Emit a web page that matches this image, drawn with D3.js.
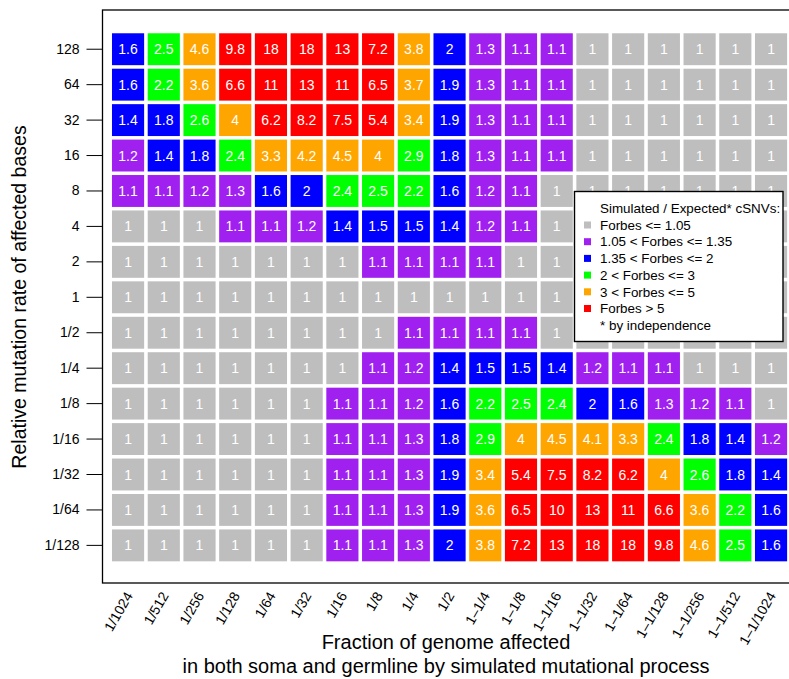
<!DOCTYPE html>
<html>
<head>
<meta charset="utf-8">
<script src="https://cdn.jsdelivr.net/npm/d3@7"></script>
<style>
  body { margin: 0; background: #fff; }
  svg { display: block; font-family: "Liberation Sans", Arial, Helvetica, sans-serif; }
</style>
</head>
<body>
<script>
// columns: fraction of genome affected
var fractions = ["1/1024","1/512","1/256","1/128","1/64","1/32","1/16","1/8","1/4","1/2",
  "1\u20131/4","1\u20131/8","1\u20131/16","1\u20131/32","1\u20131/64","1\u20131/128","1\u20131/256","1\u20131/512","1\u20131/1024"];

// rows: relative mutation rate, top to bottom
var rates = ["128","64","32","16","8","4","2","1","1/2","1/4","1/8","1/16","1/32","1/64","1/128"];

// Simulated / expected cSNVs, one array per row (same order as rates)
var forbes = [
  [1.6,2.5,4.6,9.8,18,18,13,7.2,3.8,2,1.3,1.1,1.1,1,1,1,1,1,1],
  [1.6,2.2,3.6,6.6,11,13,11,6.5,3.7,1.9,1.3,1.1,1.1,1,1,1,1,1,1],
  [1.4,1.8,2.6,4,6.2,8.2,7.5,5.4,3.4,1.9,1.3,1.1,1.1,1,1,1,1,1,1],
  [1.2,1.4,1.8,2.4,3.3,4.2,4.5,4,2.9,1.8,1.3,1.1,1.1,1,1,1,1,1,1],
  [1.1,1.1,1.2,1.3,1.6,2,2.4,2.5,2.2,1.6,1.2,1.1,1,1,1,1,1,1,1],
  [1,1,1,1.1,1.1,1.2,1.4,1.5,1.5,1.4,1.2,1.1,1,1,1,1,1,1,1],
  [1,1,1,1,1,1,1,1.1,1.1,1.1,1.1,1,1,1,1,1,1,1,1],
  [1,1,1,1,1,1,1,1,1,1,1,1,1,1,1,1,1,1,1],
  [1,1,1,1,1,1,1,1,1.1,1.1,1.1,1.1,1,1,1,1,1,1,1],
  [1,1,1,1,1,1,1,1.1,1.2,1.4,1.5,1.5,1.4,1.2,1.1,1.1,1,1,1],
  [1,1,1,1,1,1,1.1,1.1,1.2,1.6,2.2,2.5,2.4,2,1.6,1.3,1.2,1.1,1],
  [1,1,1,1,1,1,1.1,1.1,1.3,1.8,2.9,4,4.5,4.1,3.3,2.4,1.8,1.4,1.2],
  [1,1,1,1,1,1,1.1,1.1,1.3,1.9,3.4,5.4,7.5,8.2,6.2,4,2.6,1.8,1.4],
  [1,1,1,1,1,1,1.1,1.1,1.3,1.9,3.6,6.5,10,13,11,6.6,3.6,2.2,1.6],
  [1,1,1,1,1,1,1.1,1.1,1.3,2,3.8,7.2,13,18,18,9.8,4.6,2.5,1.6]
];

// colour classes (upper bounds are inclusive)
var breaks = [1.05, 1.35, 2, 3, 5];
var classColors = ["#bebebe","#a020f0","#0000ff","#00ff00","#ffa500","#ff0000"];
var classLabels = ["Forbes <= 1.05","1.05 < Forbes <= 1.35","1.35 < Forbes <= 2",
  "2 < Forbes <= 3","3 < Forbes <= 5","Forbes > 5"];

var W = 789, H = 679;
var box = {left: 102.5, top: 10, right: 790, bottom: 583};
var legendBox = {x: 574.5, y: 191.5, w: 208.5, h: 150};

var svg = d3.select("body").append("svg").attr("width", W).attr("height", H);

var x = d3.scaleBand().domain(fractions).range([110.2, 788.9])
  .paddingInner(0.1).paddingOuter(0.05);
var y = d3.scaleBand().domain(rates).range([31.5, 563.1])
  .paddingInner(0.1).paddingOuter(0.05);
function color(v){ return classColors[d3.bisectLeft(breaks, v)]; }

// flatten for drawing
var cells = [];
forbes.forEach(function(row, i){
  row.forEach(function(v, j){
    cells.push({rate: rates[i], frac: fractions[j], value: v});
  });
});

// labels that sit fully under the legend are not visible anyway
function hidden(d){
  var cx = x(d.frac) + x.bandwidth()/2, cy = y(d.rate) + y.bandwidth()/2;
  return cx > legendBox.x && cy - 6 > legendBox.y && cy + 6 < legendBox.y + legendBox.h;
}

var g = svg.append("g");
g.selectAll("rect.cell").data(cells).enter().append("rect")
  .attr("class", "cell")
  .attr("x", function(d){ return x(d.frac); })
  .attr("y", function(d){ return y(d.rate); })
  .attr("width", x.bandwidth())
  .attr("height", y.bandwidth())
  .attr("fill", function(d){ return color(d.value); });

g.selectAll("text.val").data(cells.filter(function(d){ return !hidden(d); }))
  .enter().append("text")
  .attr("class", "val")
  .attr("x", function(d){ return x(d.frac) + x.bandwidth()/2; })
  .attr("y", function(d){ return y(d.rate) + y.bandwidth()/2; })
  .attr("dy", "0.36em")
  .attr("text-anchor", "middle")
  .attr("font-size", 14)
  .attr("fill", "#fff")
  .text(function(d){ return d.value; });

// frame
svg.append("rect")
  .attr("x", box.left).attr("y", box.top)
  .attr("width", box.right - box.left).attr("height", box.bottom - box.top)
  .attr("fill", "none").attr("stroke", "#000").attr("stroke-width", 1.3);

// y axis
var yAxis = svg.append("g")
  .attr("transform", "translate(" + box.left + ",0)")
  .call(d3.axisLeft(y).tickSize(16).tickPadding(7));
yAxis.select(".domain").remove();
yAxis.selectAll("line").attr("stroke", "#000").attr("stroke-width", 1);
yAxis.selectAll("text").attr("font-size", 14).attr("fill", "#000")
  .attr("font-family", "Liberation Sans, Arial, sans-serif");

// x tick labels (rotated, no tick marks)
svg.append("g").selectAll("text").data(fractions).enter().append("text")
  .attr("transform", function(d){
    return "translate(" + (x(d) + x.bandwidth()/2 + 1) + ",593) rotate(-60)";
  })
  .attr("text-anchor", "end")
  .attr("dy", "0.35em")
  .attr("font-size", 14)
  .text(function(d){ return d; });

// axis titles
svg.append("text")
  .attr("transform", "translate(26,297) rotate(-90)")
  .attr("text-anchor", "middle")
  .attr("font-size", 19.5)
  .text("Relative mutation rate of affected bases");

svg.append("text").attr("x", 446).attr("y", 649)
  .attr("text-anchor", "middle").attr("font-size", 20)
  .text("Fraction of genome affected");
svg.append("text").attr("x", 446).attr("y", 673)
  .attr("text-anchor", "middle").attr("font-size", 20)
  .text("in both soma and germline by simulated mutational process");

// legend
var lg = svg.append("g");
lg.append("rect")
  .attr("x", legendBox.x).attr("y", legendBox.y)
  .attr("width", legendBox.w).attr("height", legendBox.h)
  .attr("fill", "#fff").attr("stroke", "#000").attr("stroke-width", 1.4);
var lineH = 16.7, ly0 = 208.3;
lg.append("text").attr("x", 600).attr("y", ly0).attr("dy", "0.35em")
  .attr("font-size", 13.4).text("Simulated / Expected* cSNVs:");
var items = lg.selectAll("g.item").data(classLabels).enter().append("g")
  .attr("class", "item")
  .attr("transform", function(d, i){ return "translate(0," + (ly0 + (i + 1) * lineH) + ")"; });
items.append("rect")
  .attr("x", 584).attr("y", -3.5).attr("width", 7).attr("height", 7)
  .attr("fill", function(d, i){ return classColors[i]; });
items.append("text").attr("x", 600).attr("dy", "0.35em")
  .attr("font-size", 13.4).text(function(d){ return d; });
lg.append("text").attr("x", 600).attr("y", ly0 + 7 * lineH).attr("dy", "0.35em")
  .attr("font-size", 13.4).text("* by independence");
</script>
</body>
</html>
